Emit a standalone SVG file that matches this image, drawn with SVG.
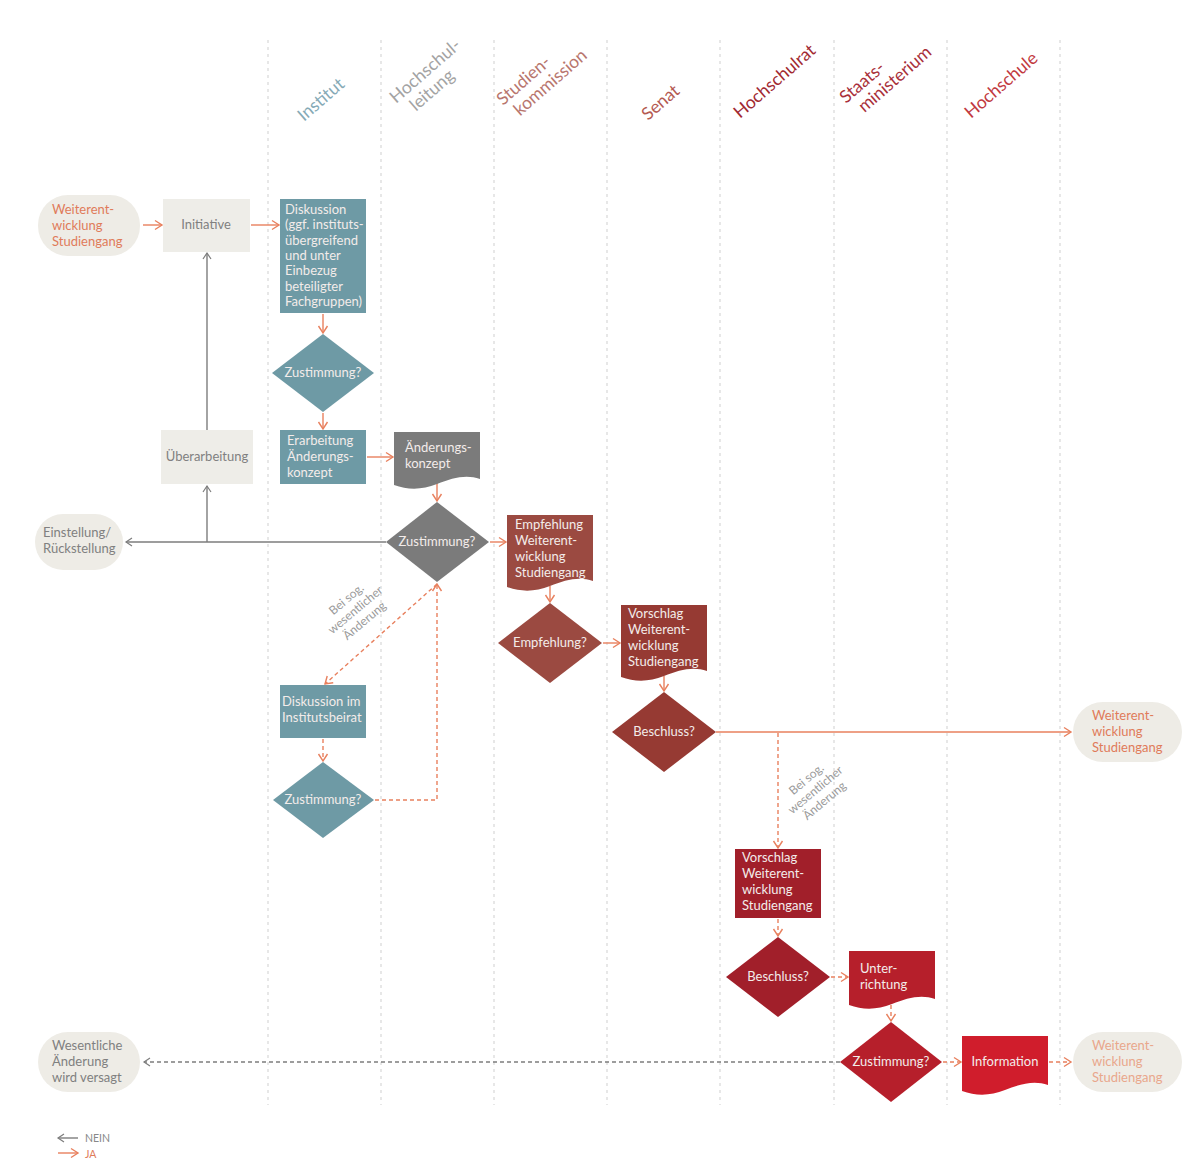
<svg xmlns="http://www.w3.org/2000/svg" width="1204" height="1160" viewBox="0 0 1204 1160">
<style>
text{font-family:Lato,"Open Sans","Liberation Sans",sans-serif;font-size:13px}
.lane{stroke:#cfcfcf;stroke-width:1;stroke-dasharray:3 4}
.hd{font-size:17.5px}
.ja{stroke:#e8805e;stroke-width:1.4;fill:none}
.nein{stroke:#7d7d7d;stroke-width:1.4;fill:none}
.dash{stroke-dasharray:4 3}
.term{fill:#eeece6}
.lt{fill:#eeede8}
.teal{fill:#6e9aa5}
.grey{fill:#7b7b7b}
.sk{fill:#9b4a41}
.se{fill:#963a33}
.hr{fill:#a11f2a}
.sm{fill:#b61f2b}
.hs{fill:#d01d2c}
.wt{fill:#f3ecea}
.ot{fill:#e07b5a}
.gt{fill:#808080}
.lab{fill:#9a9a9a;font-size:12px}
.lg{font-size:10.5px}
</style>
<defs>
<marker id="mja" markerUnits="userSpaceOnUse" markerWidth="12" markerHeight="12" refX="8" refY="6" orient="auto"><path d="M1,1.5 L8,6 L1,10.5" fill="none" stroke="#e8805e" stroke-width="1.4"/></marker>
<marker id="mnein" markerUnits="userSpaceOnUse" markerWidth="12" markerHeight="12" refX="8" refY="6" orient="auto"><path d="M2,2 L8,6 L2,10" fill="none" stroke="#7d7d7d" stroke-width="1.2"/></marker>
</defs>
<rect width="1204" height="1160" fill="#ffffff"/>
<g id="lanes">
<line class="lane" x1="268" y1="40" x2="268" y2="1105"/>
<line class="lane" x1="381" y1="40" x2="381" y2="1105"/>
<line class="lane" x1="494" y1="40" x2="494" y2="1105"/>
<line class="lane" x1="607" y1="40" x2="607" y2="1105"/>
<line class="lane" x1="720" y1="40" x2="720" y2="1105"/>
<line class="lane" x1="834" y1="40" x2="834" y2="1105"/>
<line class="lane" x1="947" y1="40" x2="947" y2="1105"/>
<line class="lane" x1="1060" y1="40" x2="1060" y2="1105"/>
</g>
<g id="headers">
<text class="hd" fill="#86aab6" transform="translate(304,122) rotate(-41)">Institut</text>
<text class="hd" fill="#a3a3a3" transform="translate(396,104) rotate(-41)">Hochschul-<tspan x="10" dy="19">leitung</tspan></text>
<text class="hd" fill="#b8766e" transform="translate(503,106) rotate(-41)">Studien-<tspan x="6" dy="19">kommission</tspan></text>
<text class="hd" fill="#b45a52" transform="translate(648,121) rotate(-41)">Senat</text>
<text class="hd" fill="#a22a31" transform="translate(740,119) rotate(-41)">Hochschulrat</text>
<text class="hd" fill="#a9303a" transform="translate(846,104) rotate(-41)">Staats-<tspan x="8" dy="19">ministerium</tspan></text>
<text class="hd" fill="#c23a40" transform="translate(971,119) rotate(-41)">Hochschule</text>
</g>
<g id="connectors">
<line class="ja" x1="143" y1="225" x2="162" y2="225" marker-end="url(#mja)"/>
<line class="ja" x1="251" y1="225" x2="279" y2="225" marker-end="url(#mja)"/>
<line class="ja" x1="323" y1="314" x2="323" y2="333" marker-end="url(#mja)"/>
<line class="ja" x1="323" y1="413" x2="323" y2="429" marker-end="url(#mja)"/>
<line class="ja" x1="367" y1="457" x2="393" y2="457" marker-end="url(#mja)"/>
<line class="ja" x1="437" y1="483" x2="437" y2="501" marker-end="url(#mja)"/>
<line class="nein" x1="386" y1="542" x2="126" y2="542" marker-end="url(#mnein)"/>
<line class="nein" x1="207" y1="542" x2="207" y2="486" marker-end="url(#mnein)"/>
<line class="nein" x1="207" y1="430" x2="207" y2="253" marker-end="url(#mnein)"/>
<line class="ja" x1="490" y1="542" x2="506" y2="542" marker-end="url(#mja)"/>
<line class="ja" x1="550" y1="586" x2="550" y2="602" marker-end="url(#mja)"/>
<line class="ja" x1="603" y1="643" x2="620" y2="643" marker-end="url(#mja)"/>
<line class="ja" x1="664" y1="676" x2="664" y2="691" marker-end="url(#mja)"/>
<line class="ja" x1="716" y1="732" x2="1071" y2="732" marker-end="url(#mja)"/>
<line class="ja dash" x1="437" y1="584" x2="325" y2="684" marker-end="url(#mja)"/>
<line class="ja dash" x1="323" y1="739" x2="323" y2="761" marker-end="url(#mja)"/>
<polyline class="ja dash" points="375,800 437,800 437,584" marker-end="url(#mja)"/>
<line class="ja dash" x1="778" y1="733" x2="778" y2="848" marker-end="url(#mja)"/>
<line class="ja dash" x1="778" y1="919" x2="778" y2="936" marker-end="url(#mja)"/>
<line class="ja dash" x1="831" y1="977" x2="848" y2="977" marker-end="url(#mja)"/>
<line class="ja dash" x1="891" y1="1005" x2="891" y2="1021" marker-end="url(#mja)"/>
<line class="ja dash" x1="943" y1="1062" x2="961" y2="1062" marker-end="url(#mja)"/>
<line class="ja dash" x1="1049" y1="1062" x2="1071" y2="1062" marker-end="url(#mja)"/>
<line class="nein dash" x1="840" y1="1062" x2="144" y2="1062" marker-end="url(#mnein)"/>
<text class="lab" text-anchor="middle" transform="translate(358,613) rotate(-40)"><tspan x="0" dy="-14">Bei sog.</tspan><tspan x="0" dy="14">wesentlicher</tspan><tspan x="0" dy="14">Änderung</tspan></text>
<text class="lab" text-anchor="middle" transform="translate(818,793) rotate(-40)"><tspan x="0" dy="-14">Bei sog.</tspan><tspan x="0" dy="14">wesentlicher</tspan><tspan x="0" dy="14">Änderung</tspan></text>
</g>
<g id="n-start">
<rect class="term" x="38" y="195" width="102" height="61" rx="30"/>
<text class="ot" x="52" y="214">Weiterent-<tspan x="52" dy="16">wicklung</tspan><tspan x="52" dy="16">Studiengang</tspan></text>
</g>
<g id="n-initiative">
<rect class="lt" x="163" y="199" width="87" height="53"/>
<text class="gt" x="206" y="229" text-anchor="middle">Initiative</text>
</g>
<g id="n-diskussion">
<rect class="teal" x="280" y="199" width="86" height="114"/>
<text class="wt" x="285" y="214">Diskussion<tspan x="285" dy="15.3">(ggf. instituts-</tspan><tspan x="285" dy="15.3">übergreifend</tspan><tspan x="285" dy="15.3">und unter</tspan><tspan x="285" dy="15.3">Einbezug</tspan><tspan x="285" dy="15.3">beteiligter</tspan><tspan x="285" dy="15.3">Fachgruppen)</tspan></text>
</g>
<g id="n-zust1">
<polygon class="teal" points="323,334 374,373 323,412 272,373"/>
<text class="wt" x="323" y="377" text-anchor="middle">Zustimmung?</text>
</g>
<g id="n-erarbeitung">
<rect class="teal" x="280" y="430" width="86" height="54"/>
<text class="wt" x="287" y="445">Erarbeitung<tspan x="287" dy="16">Änderungs-</tspan><tspan x="287" dy="16">konzept</tspan></text>
</g>
<g id="n-ueberarbeitung">
<rect class="lt" x="161" y="430" width="92" height="54"/>
<text class="gt" x="207" y="461" text-anchor="middle">Überarbeitung</text>
</g>
<g id="n-aenderungskonzept">
<path class="grey" d="M394,432 H480 V479 C466,474 452,478 437,484 C422,490 408,490 394,485 Z"/>
<text class="wt" x="405" y="452">Änderungs-<tspan x="405" dy="16">konzept</tspan></text>
</g>
<g id="n-zust2">
<polygon class="grey" points="437,502 489,542 437,582 386,542"/>
<text class="wt" x="437" y="546" text-anchor="middle">Zustimmung?</text>
</g>
<g id="n-einstellung">
<rect class="term" x="35" y="514" width="88" height="56" rx="28"/>
<text class="gt" x="43" y="537">Einstellung/<tspan x="43" dy="16">Rückstellung</tspan></text>
</g>
<g id="n-empfehlung">
<path class="sk" d="M507,515 H593 V581 C579,576 565,580 550,586 C535,592 521,592 507,587 Z"/>
<text class="wt" x="515" y="529">Empfehlung<tspan x="515" dy="16">Weiterent-</tspan><tspan x="515" dy="16">wicklung</tspan><tspan x="515" dy="16">Studiengang</tspan></text>
</g>
<g id="n-empf-q">
<polygon class="sk" points="550,603 602,643 550,683 498,643"/>
<text class="wt" x="550" y="647" text-anchor="middle">Empfehlung?</text>
</g>
<g id="n-vorschlag-senat">
<path class="se" d="M621,605 H707 V671 C693,666 679,670 664,676 C649,682 635,682 621,677 Z"/>
<text class="wt" x="628" y="618">Vorschlag<tspan x="628" dy="16">Weiterent-</tspan><tspan x="628" dy="16">wicklung</tspan><tspan x="628" dy="16">Studiengang</tspan></text>
</g>
<g id="n-beschluss1">
<polygon class="se" points="664,692 716,732 664,772 612,732"/>
<text class="wt" x="664" y="736" text-anchor="middle">Beschluss?</text>
</g>
<g id="n-end1">
<rect class="term" x="1073" y="702" width="109" height="60" rx="30"/>
<text class="ot" x="1092" y="720">Weiterent-<tspan x="1092" dy="16">wicklung</tspan><tspan x="1092" dy="16">Studiengang</tspan></text>
</g>
<g id="n-beirat">
<rect class="teal" x="280" y="685" width="86" height="53"/>
<text class="wt" x="282" y="706">Diskussion im<tspan x="282" dy="16">Institutsbeirat</tspan></text>
</g>
<g id="n-zust3">
<polygon class="teal" points="323,762 374,800 323,838 273,800"/>
<text class="wt" x="323" y="804" text-anchor="middle">Zustimmung?</text>
</g>
<g id="n-vorschlag-hr">
<rect class="hr" x="735" y="849" width="86" height="69"/>
<text class="wt" x="742" y="862">Vorschlag<tspan x="742" dy="16">Weiterent-</tspan><tspan x="742" dy="16">wicklung</tspan><tspan x="742" dy="16">Studiengang</tspan></text>
</g>
<g id="n-beschluss2">
<polygon class="hr" points="778,937 830,977 778,1017 726,977"/>
<text class="wt" x="778" y="981" text-anchor="middle">Beschluss?</text>
</g>
<g id="n-unterrichtung">
<path class="sm" d="M849,951 H935 V999 C921,994 907,998 892,1004 C877,1010 863,1010 849,1005 Z"/>
<text class="wt" x="860" y="973">Unter-<tspan x="860" dy="16">richtung</tspan></text>
</g>
<g id="n-zust4">
<polygon class="sm" points="891,1022 942,1062 891,1102 840,1062"/>
<text class="wt" x="891" y="1066" text-anchor="middle">Zustimmung?</text>
</g>
<g id="n-information">
<path class="hs" d="M962,1036 H1048 V1085 C1034,1080 1020,1084 1005,1090 C990,1096 976,1096 962,1091 Z"/>
<text class="wt" x="1005" y="1066" text-anchor="middle">Information</text>
</g>
<g id="n-end2">
<rect class="term" x="1073" y="1032" width="109" height="60" rx="30"/>
<text x="1092" y="1050" fill="#e9a78c">Weiterent-<tspan x="1092" dy="16">wicklung</tspan><tspan x="1092" dy="16">Studiengang</tspan></text>
</g>
<g id="n-versagt">
<rect class="term" x="38" y="1032" width="102" height="60" rx="30"/>
<text class="gt" x="52" y="1050">Wesentliche<tspan x="52" dy="16">Änderung</tspan><tspan x="52" dy="16">wird versagt</tspan></text>
</g>
<g id="legend">
<line class="nein" x1="78" y1="1138" x2="58" y2="1138" stroke-width="1" marker-end="url(#mnein)"/>
<text class="lg" x="85" y="1142" fill="#888888">NEIN</text>
<line class="ja" x1="58" y1="1153" x2="78" y2="1153" marker-end="url(#mja)"/>
<text class="lg" x="85" y="1157.5" fill="#e07b5a">JA</text>
</g>
</svg>
